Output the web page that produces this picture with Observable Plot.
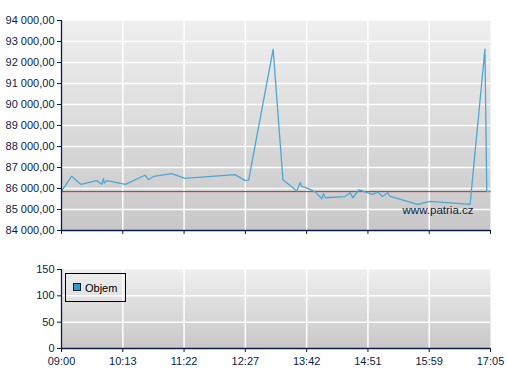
<!DOCTYPE html>
<html>
<head>
<meta charset="utf-8">
<script src="https://cdn.jsdelivr.net/npm/d3@7"></script>
<script src="https://cdn.jsdelivr.net/npm/@observablehq/plot@0.6"></script>
<style>
  html, body { margin: 0; padding: 0; background: #fff; }
  #wrap { position: relative; width: 507px; height: 380px; font-family: "Liberation Sans", Arial, sans-serif; }
  #wrap svg { display: block; }
  #legend { position: absolute; left: 65px; top: 273px; width: 59px; height: 27px; border: 1px solid #000; }
  #legend .sw { position: absolute; left: 7px; top: 9px; width: 6px; height: 6px; background: #3399cc; border: 1px solid #0a1a30; }
  #legend .lb { position: absolute; left: 19px; top: 8px; font-size: 11px; line-height: 12px; color: #000; }
</style>
</head>
<body>
<div id="wrap"></div>
<script>
// ---- data ----
const tickLabels = ["09:00", "10:13", "11:22", "12:27", "13:42", "14:51", "15:59", "17:05"];
const times = ["09:00","09:12","09:23","09:42","09:48","09:50","09:51","09:54","10:16","10:38",
               "10:42","10:48","11:08","11:23","12:16","12:27","12:31","13:01","13:13","13:30",
               "13:34","13:36","13:44","13:52","13:59","14:01","14:03","14:25","14:31","14:34",
               "14:41","14:50","14:56","15:02","15:07","15:13","15:15","15:46","16:00","16:43",
               "16:59","17:01","17:05"];
const prices = [85880, 86580, 86200, 86375, 86200, 86470, 86260, 86375, 86200, 86630,
                86420, 86580, 86710, 86485, 86660, 86375, 86400, 92630, 86420, 85880,
                86280, 86100, 85990, 85830, 85510, 85750, 85560, 85610, 85800, 85560,
                85940, 85800, 85720, 85830, 85620, 85800, 85640, 85240, 85385, 85240,
                92630, 85860, 85860];
const refPrice = [85850];
const priceTicks = [84000, 85000, 86000, 87000, 88000, 89000, 90000, 91000, 92000, 93000, 94000];
const volumeTicks = [0, 50, 100, 150];
const watermark = ["www.patria.cz"];
const legendLabel = "Objem";

// ---- helpers ----
const toMin = s => { const [h, m] = s.split(":").map(Number); return h * 60 + m; };
const tickMins = tickLabels.map(toMin);
const labelOf = new Map(tickMins.map((m, i) => [m, tickLabels[i]]));
const data = times.map((t, i) => ({t: toMin(t), p: prices[i]}));
const csFmt = d3.formatLocale({decimal: ",", thousands: " ", grouping: [3], currency: ["", ""]}).format(",.2f");

const W = 507, ML = 61, MR = 17;
const xRange = tickMins.map((_, i) => ML + i * (W - ML - MR) / (tickMins.length - 1));
const navy = "#0c1c48";
const gridColor = "#ffffff";

function gradientDefs(id) {
  return () => {
    const defs = d3.create("svg:defs");
    const g = defs.append("linearGradient").attr("id", id).attr("x1", 0).attr("y1", 0).attr("x2", 0).attr("y2", 1);
    g.append("stop").attr("offset", "0%").attr("stop-color", "#efefef");
    g.append("stop").attr("offset", "100%").attr("stop-color", "#c8c8c8");
    return defs.node();
  };
}

const common = {
  width: W,
  marginLeft: ML,
  marginRight: MR,
  style: {fontFamily: "'Liberation Sans', Arial, sans-serif", fontSize: "11px", color: navy, background: "transparent"},
  x: {type: "linear", domain: tickMins, range: xRange, label: null}
};

const topChart = Plot.plot({
  ...common,
  height: 240,
  marginTop: 20,
  marginBottom: 10,
  y: {domain: [84000, 94000], label: null},
  marks: [
    gradientDefs("gTop"),
    Plot.frame({fill: "url(#gTop)", stroke: "none"}),
    Plot.gridY(priceTicks.slice(1, -1), {stroke: gridColor, strokeOpacity: 1, strokeWidth: 1.5}),
    Plot.gridX(tickMins.slice(1, -1), {stroke: gridColor, strokeOpacity: 1, strokeWidth: 1.5}),
    Plot.ruleY(refPrice, {stroke: "#c0282d", strokeWidth: 1}),
    Plot.line(data, {x: "t", y: "p", stroke: "#4ea6d4", strokeWidth: 1.3}),
    Plot.text(watermark, {frameAnchor: "bottom-right", dx: -17, dy: -17, fontSize: 11.5, fill: navy}),
    Plot.axisY({ticks: priceTicks, tickSize: 4, tickPadding: 3, tickFormat: csFmt, stroke: navy, fill: navy, label: null}),
    Plot.axisX({ticks: tickMins, tickSize: 4, tickFormat: () => "", stroke: navy, label: null}),
    Plot.ruleX([tickMins[0]], {stroke: navy, strokeWidth: 1.3}),
    Plot.ruleY([84000], {stroke: navy, strokeWidth: 1.3})
  ]
});

const bottomChart = Plot.plot({
  ...common,
  height: 140,
  marginTop: 29,
  marginBottom: 32,
  y: {domain: [0, 150], label: null},
  marks: [
    gradientDefs("gBot"),
    Plot.frame({fill: "url(#gBot)", stroke: "none"}),
    Plot.gridY(volumeTicks.slice(1, -1), {stroke: gridColor, strokeOpacity: 1, strokeWidth: 1.5}),
    Plot.gridX(tickMins.slice(1, -1), {stroke: gridColor, strokeOpacity: 1, strokeWidth: 1.5}),
    Plot.axisY({ticks: volumeTicks, tickSize: 4, tickPadding: 3, stroke: navy, fill: navy, label: null}),
    Plot.axisX({ticks: tickMins, tickSize: 4, tickPadding: 5, tickFormat: d => labelOf.get(d), stroke: navy, fill: navy, label: null}),
    Plot.ruleX([tickMins[0]], {stroke: navy, strokeWidth: 1.3}),
    Plot.ruleY([0], {stroke: navy, strokeWidth: 1.3})
  ]
});

const wrap = document.getElementById("wrap");
wrap.appendChild(topChart);
wrap.appendChild(bottomChart);
const lg = document.createElement("div");
lg.id = "legend";
lg.innerHTML = `<div class="sw"></div><div class="lb">${legendLabel}</div>`;
wrap.appendChild(lg);
</script>
</body>
</html>
